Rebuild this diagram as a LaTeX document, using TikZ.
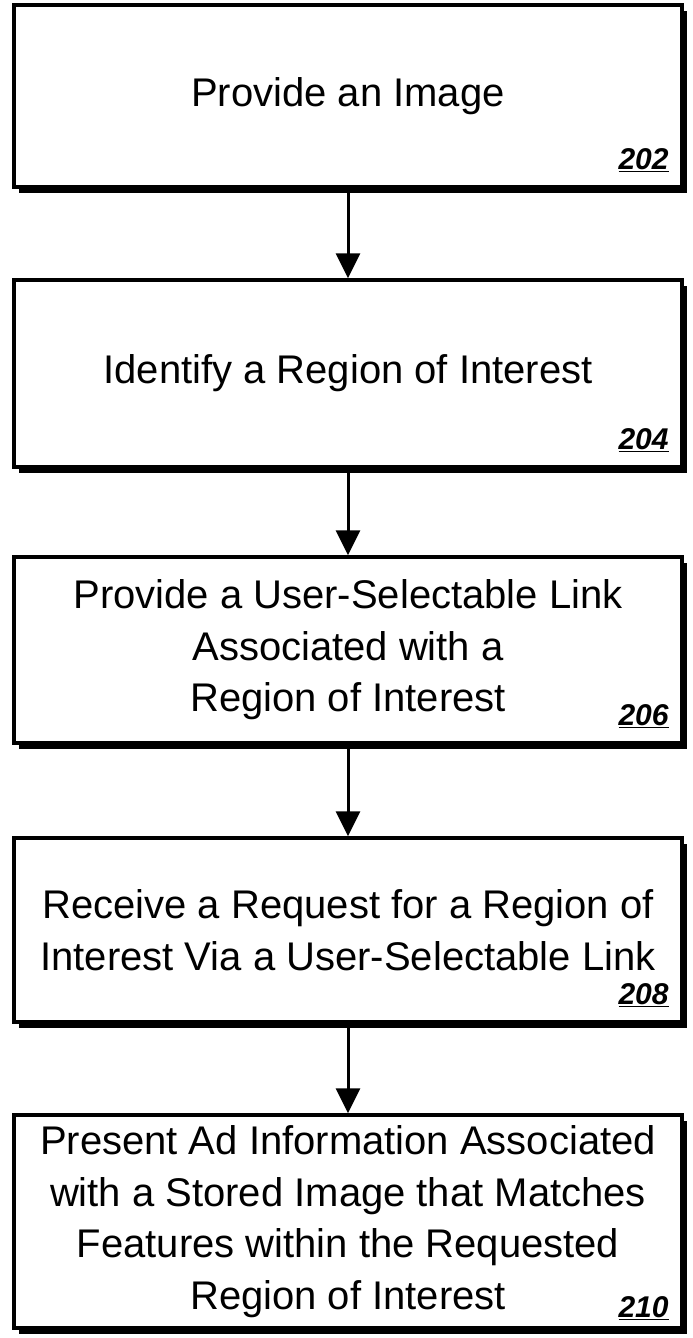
\documentclass[tikz,border=0pt]{standalone}
\usepackage{fontspec}
\setmainfont{Liberation Sans}
\usetikzlibrary{shadows,arrows.meta,calc}
\begin{document}
\begin{tikzpicture}[x=1pt,y=1pt,
  stepbox/.style={draw=black, line width=3.5pt, fill=white, minimum width=668pt,
    align=center, inner sep=0pt,
    font=\fontsize{40}{51.5}\selectfont,
    drop shadow={shadow xshift=5pt, shadow yshift=-6pt, opacity=1, fill=black}},
  reflabel/.style={anchor=base east, inner sep=0pt, font=\fontsize{30}{31}\selectfont\bfseries\itshape},
  arr/.style={line width=3pt, -{Triangle[width=24pt,length=25pt]}}]
\useasboundingbox (0,0) rectangle (693,-1338);
\node[stepbox, minimum height=182pt] (b1) at (348,-96) {Provide an Image};
\node[stepbox, minimum height=187pt] (b2) at (348,-373.5) {Identify a Region of Interest};
\node[stepbox, minimum height=186pt] (b3) at (348,-650) {Provide a User-Selectable Link\\Associated with a\\Region of Interest};
\node[stepbox, minimum height=184pt] (b4) at (348,-930) {Receive a Request for a Region of\\Interest Via a User-Selectable Link};
\node[stepbox, minimum height=213pt] (b5) at (348,-1221.5) {Present Ad Information Associated\\with a Stored Image that Matches\\Features within the Requested\\Region of Interest};
\node[reflabel] (l1) at ($(b1.south east)+(-15,19)$) {\underline{202}};
\node[reflabel] (l2) at ($(b2.south east)+(-15,19)$) {\underline{204}};
\node[reflabel] (l3) at ($(b3.south east)+(-15,19)$) {\underline{206}};
\node[reflabel] (l4) at ($(b4.south east)+(-15,19)$) {\underline{208}};
\node[reflabel] (l5) at ($(b5.south east)+(-15,12)$) {\underline{210}};
\draw[arr] (b1.south) -- (b2.north);
\draw[arr] (b2.south) -- (b3.north);
\draw[arr] (b3.south) -- (b4.north);
\draw[arr] (b4.south) -- (b5.north);
\end{tikzpicture}
\end{document}
